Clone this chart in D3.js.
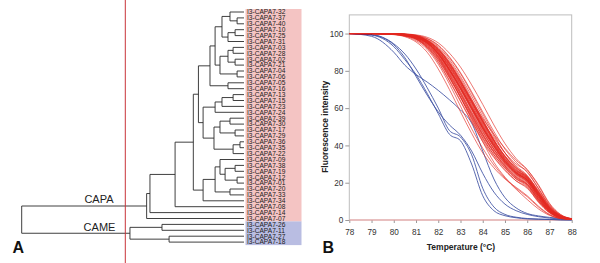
<!DOCTYPE html>
<html><head><meta charset="utf-8">
<script src="https://cdn.jsdelivr.net/npm/d3@7"></script>
<style>body{margin:0;background:#fff}svg{display:block}text{font-family:"Liberation Sans",Arial,sans-serif}</style>
</head><body>
<svg id="c" width="600" height="263"></svg>
<script>
// ---------- Panel A data ----------
const leafCodes = ["32","37","40","10","25","31","03","28","02","21","04","06","05","16","13","15","23","24","39","30","17","29","36","35","22","09","38","19","12","01","20","33","34","08","14","07","26","11","27","18"];
const capaCodes = leafCodes.slice(0, 36);
const cameCodes = leafCodes.slice(36);
const labelPrefix = "I3-CAPA7-";
const cladeNames = ["CAPA", "CAME"];
// nested clusters: [height, childA, childB]
const ctop = [15.3,
  [13.0, [9.9, [6.3, "32", [3.1, "37", "40"]], [7.2, [4.0, "10", "25"], "31"]],
         [10.8, [7.2, [4.9, "03", "28"], [4.0, "02", "21"]], [3.1, "04", "06"]]],
  [7.2, "05", "16"]];
const cmid = [18.4,
  [13.0, [9.9, [4.9, "13", "15"], "23"], "24"],
  [13.5, [10.8, [6.3, "39", "30"], [4.0, "17", "29"]], [4.9, [1.8, "36", "35"], "22"]]];
const clow = [18.4,
  [13.0, [10.8, "09", [8.5, [4.0, "38", "19"], [3.1, "12", "01"]]], [6.3, "20", "33"]],
  "34"];
const tree = [100,
  [43.8, [42.3, [31.0, [22.8, [20.5, ctop, cmid], clow], "08"], "14"], "07"],
  [51.3, [36.9, "26", "11"], [33.7, "27", "18"]]];

// ---------- Panel B data ----------
const temps = [78, 79, 80, 80.5, 81, 81.5, 82, 82.5, 83, 83.5, 84, 84.5, 85, 85.5, 86, 86.5, 87, 87.5, 88];
const xTicks = [78, 79, 80, 81, 82, 83, 84, 85, 86, 87, 88];
const yTicks = [0, 20, 40, 60, 80, 100];
const capaCurves = [
  [100,100,99.8,99.3,98.0,95.0,89,80,70,59,48,38,30,24,20,12,5,1.5,0.5],
  [100,100,99.9,99.5,98.5,96.0,91,83,73,62,51,41,32,25.5,21,13,5.5,1.6,0.5],
  [100,100,99.7,99.0,97.5,93.5,87,77,66,55,44,35,28,22,19,11,4.5,1.3,0.4],
  [100,100,99.9,99.6,98.8,96.5,92,85,76,65,54,43,34,27,22.5,14,6,1.8,0.5],
  [100,100,99.6,98.8,97.0,92.5,85,75,64,53,43,34,27,21,17,10,4,1.2,0.4],
  [100,100,99.8,99.4,98.2,95.5,90,82,72,61,50,40,31,25,21.5,14,6.5,2,0.6],
  [100,100,99.9,99.5,98.6,96.2,91.5,84,74.5,63.5,52.5,42,33,26.5,23,15,7,2.2,0.6],
  [100,100,99.7,99.1,97.8,94.5,88,79,68.5,57,46,36.5,29,23,19,11,4.5,1.4,0.4],
  [100,100,100,99.7,99.0,97.2,93.5,87,78.5,68,57,46,36,28.5,23.5,15.5,7,2.2,0.6],
  [100,100,99.8,99.2,97.9,94.8,88.5,79.5,69,58,47.5,38,30.5,24.5,20.5,12.5,5,1.5,0.5],
  [100,100,99.4,98.3,95.5,90,81,70,58,46.5,36,28,22,17.5,13,7.5,3,0.9,0.3],
  [100,100,99.5,98.6,96.2,91.5,83.5,73,61,49,38.5,29.5,22.5,16.5,11,6,2.5,0.8,0.3],
  [100,100,100,99.8,99.3,98,95,89.5,82,72.5,62,51,41,33,27,19,9,3,0.7],
  [100,100,99.9,99.5,98.4,95.8,90.5,82.5,73,63,53,44,36,30,26,17,7.5,2.4,0.6],
  [100,100,99.8,99.3,98.1,95.2,89.3,80.8,71,60,49,39.5,31.5,25.5,21.5,13.5,6,1.8,0.5],
  [100,100,99.7,99.0,97.6,94,87.5,78,67.5,56.5,46,37,29.5,23.5,19.5,11.5,4.8,1.4,0.4],
  [100,100,99.9,99.6,98.7,96.4,92,84.5,75,64.5,53.5,43,34.5,28,23,15,6.8,2.1,0.6],
  [100,100,99.8,99.3,98.0,94.8,88.8,80.2,70.5,60,49.5,40.5,32.5,26,21.8,13,5.2,1.5,0.5],
  [100,100,99.9,99.4,98.3,95.6,90.3,82,72.5,62,51.5,41.5,33,26.5,22,13.8,5.8,1.7,0.5],
  [100,100,99.6,98.9,97.2,93,86,76.5,66,55.5,45,36,28.5,22.5,18.5,10.5,4.2,1.2,0.4],
  [100,100,99.8,99.4,98.3,95.4,89.7,81.3,71.5,61,50.5,41,32.5,26,22.2,14.5,6.3,1.9,0.5],
  [100,100,99.9,99.6,98.9,96.8,92.8,86,77,66.5,55.5,45,36,29,24,15.2,6.5,2,0.5],
  [100,100,99.7,99.0,97.3,93.2,86.5,77,66,54,42,31,23,17,12.5,7,2.8,0.8,0.3],
  [100,100,99.8,99.2,97.9,94.9,89,80.5,70.2,59.5,49,39,31,24.8,20.8,12.2,4.9,1.5,0.5],
  [100,100,99.9,99.5,98.5,96,91.2,83.5,74,63,52,42.5,34,28,23.5,16,7.5,2.4,0.6],
  [100,100,99.7,99.1,97.7,94.3,87.8,78.5,68,57.5,47,38,30.5,24.5,20.5,12,4.8,1.4,0.4],
  [100,100,99.8,99.3,98.1,95.1,89.1,80.4,70.4,59.6,48.8,39.4,31.3,25.2,21.2,13.2,5.6,1.7,0.5],
  [100,100,99.9,99.7,99.1,97.4,93.8,87.5,79,68.8,58,47.5,38,31,25.5,17,8,2.6,0.7],
  [100,100,99.6,98.7,96.8,92.2,84.5,74.5,63.5,52.5,42,33.5,26.5,21,17.5,9.5,3.8,1.1,0.4],
  [100,100,99.8,99.3,98.2,95.3,89.6,81,71.2,60.5,50,40,31.8,25.5,21.5,13.5,5.7,1.7,0.5],
  [100,100,99.9,99.6,98.7,96.3,91.7,84.2,74.8,64,53,42.8,34.2,27.5,22.8,14.5,6.5,2,0.5],
  [100,100,99.7,99.0,97.4,93.8,87.2,77.8,67.2,56.2,45.5,36.5,29,23,19.2,11.2,4.6,1.3,0.4],
  [100,100,99.8,99.4,98.4,95.7,90.4,82.8,73.8,64,54.5,46,38.5,32,27,18.5,8.5,2.8,0.7],
  [100,100,99.8,99.2,98.0,95.0,89.2,80.7,70.8,60.2,49.6,40,31.8,25.4,21.4,13.2,5.5,1.6,0.5],
  [100,100,99.9,99.5,98.6,96.1,91.3,83.8,74.2,63.5,52.8,42.4,33.6,27,22.4,14.2,6.2,1.9,0.5],
  [100,100,99.6,98.8,97.1,92.8,85.8,76.2,65.5,54.5,44,35,27.8,22,18,10.2,4.1,1.2,0.4]
];
const cameCurves = [
  [100,99.2,93,86,78,68,57,46,42.5,30,13,5,2.3,1.2,0.6,0.4,0.3,0.1,0],
  [100,99.5,94.5,89,81,71,60,48,44.5,35,17,7,3,1.5,0.8,0.5,0.3,0.1,0],
  [100,99.3,94,87,77,67,58,51,45.5,37,25,15,8.5,5,3,1.8,1,0.5,0.3],
  [100,98.5,90,83,78,74,69.5,64.5,59,52,37,22,12,6.5,3.5,2.2,1.4,0.8,0.4]
];
const baseline = [0, 0];
const xTitle = "Temperature (°C)";
const yTitle = "Fluorescence intensity";
const panelLetters = ["A", "B"];

// ---------- drawing ----------
const svg = d3.select("#c");

// Panel A
const xTree = d3.scaleLinear().domain([0, 100]).range([244, 21.7]);
const yLeaf = d3.scalePoint().domain(leafCodes).range([12, 242.1]);

const gA = svg.append("g");
// background boxes
gA.append("rect").attr("x", 245.5).attr("width", 56)
  .attr("y", yLeaf(capaCodes[0]) - 3).attr("height", yLeaf(capaCodes[35]) - yLeaf(capaCodes[0]) + 6)
  .attr("fill", "#f4c4c3");
gA.append("rect").attr("x", 245.5).attr("width", 56)
  .attr("y", yLeaf(cameCodes[0]) - 3).attr("height", yLeaf(cameCodes[3]) - yLeaf(cameCodes[0]) + 6)
  .attr("fill", "#b9bde2");

const root = d3.hierarchy(tree, d => Array.isArray(d) ? d.slice(1) : null);
root.eachAfter(n => {
  if (n.children) {
    n.px = xTree(n.data[0]);
    n.py = (n.children[0].py + n.children[1].py) / 2;
  } else {
    n.px = xTree(0);
    n.py = yLeaf(n.data);
  }
});
const linkG = gA.append("g").attr("stroke", "#2a2a2a").attr("stroke-width", 0.9).attr("fill", "none");
root.each(n => {
  if (!n.children) return;
  linkG.append("line").attr("x1", n.px).attr("x2", n.px)
    .attr("y1", n.children[0].py).attr("y2", n.children[1].py);
  n.children.forEach(c => {
    linkG.append("line").attr("x1", n.px).attr("x2", c.px).attr("y1", c.py).attr("y2", c.py);
  });
});
// leaf labels
gA.append("g").selectAll("text").data(leafCodes).join("text")
  .attr("x", 247).attr("y", d => yLeaf(d)).attr("dy", "0.35em")
  .attr("font-size", 6.6).attr("fill", "#1a1a1a")
  .text(d => labelPrefix + d);
// clade labels
const capaNode = root.children[0], cameNode = root.children[1];
gA.append("text").attr("x", 99).attr("y", capaNode.py - 3).attr("text-anchor", "middle")
  .attr("font-size", 11).attr("fill", "#222").text(cladeNames[0]);
gA.append("text").attr("x", 99.5).attr("y", cameNode.py - 2).attr("text-anchor", "middle")
  .attr("font-size", 11).attr("fill", "#222").text(cladeNames[1]);
// red cut line
gA.append("line").attr("x1", 125.3).attr("x2", 125.3).attr("y1", 0).attr("y2", 263)
  .attr("stroke", "#c8353a").attr("stroke-width", 1);
gA.append("text").attr("x", 12.5).attr("y", 253).attr("font-size", 16).attr("font-weight", "bold")
  .attr("fill", "#111").text(panelLetters[0]);

// Panel B
const x = d3.scaleLinear().domain([78, 88]).range([349.3, 571.7]);
const y = d3.scaleLinear().domain([0, 110]).range([220, 14.9]);
const gB = svg.append("g");
gB.append("rect").attr("x", x(78)).attr("y", y(110)).attr("width", x(88) - x(78)).attr("height", y(0) - y(110))
  .attr("fill", "none").attr("stroke", "#bdbdbd").attr("stroke-width", 1);

const xAxis = d3.axisBottom(x).tickValues(xTicks).tickSize(3).tickPadding(6).tickFormat(d3.format("d"));
const yAxis = d3.axisLeft(y).tickValues(yTicks).tickSize(4).tickPadding(2).tickFormat(d3.format("d"));
const gx = gB.append("g").attr("transform", `translate(0,${y(0)})`).call(xAxis);
const gy = gB.append("g").attr("transform", `translate(${x(78)},0)`).call(yAxis);
[gx, gy].forEach(g => {
  g.select(".domain").remove();
  g.selectAll(".tick line").attr("stroke", "#999");
  g.selectAll(".tick text").attr("font-size", 8.2).attr("fill", "#333")
    .attr("font-family", "'Liberation Sans', Arial, sans-serif");
});

const line = d3.line().x((d, i) => x(temps[i])).y(d => y(d)).curve(d3.curveMonotoneX);
gB.append("line").attr("x1", x(78)).attr("x2", x(88)).attr("y1", y(baseline[0])).attr("y2", y(baseline[1]))
  .attr("stroke", "#f2a0a0").attr("stroke-width", 1.2);
gB.append("g").selectAll("path").data(cameCurves).join("path")
  .attr("d", line).attr("fill", "none").attr("stroke", "#3c4fa2").attr("stroke-width", 0.85);
gB.append("g").selectAll("path").data(capaCurves).join("path")
  .attr("d", line).attr("fill", "none").attr("stroke", "#e3281f").attr("stroke-width", 0.75).attr("stroke-opacity", 0.85);

gB.append("text").attr("x", 461).attr("y", 250).attr("text-anchor", "middle")
  .attr("font-size", 8.5).attr("font-weight", "bold").attr("fill", "#222").text(xTitle);
gB.append("text").attr("transform", `translate(328,${(y(0) + y(100)) / 2}) rotate(-90)`)
  .attr("text-anchor", "middle").attr("font-size", 8.5).attr("font-weight", "bold").attr("fill", "#222").text(yTitle);
gB.append("text").attr("x", 322.5).attr("y", 253).attr("font-size", 16).attr("font-weight", "bold")
  .attr("fill", "#111").text(panelLetters[1]);
</script>
</body></html>
